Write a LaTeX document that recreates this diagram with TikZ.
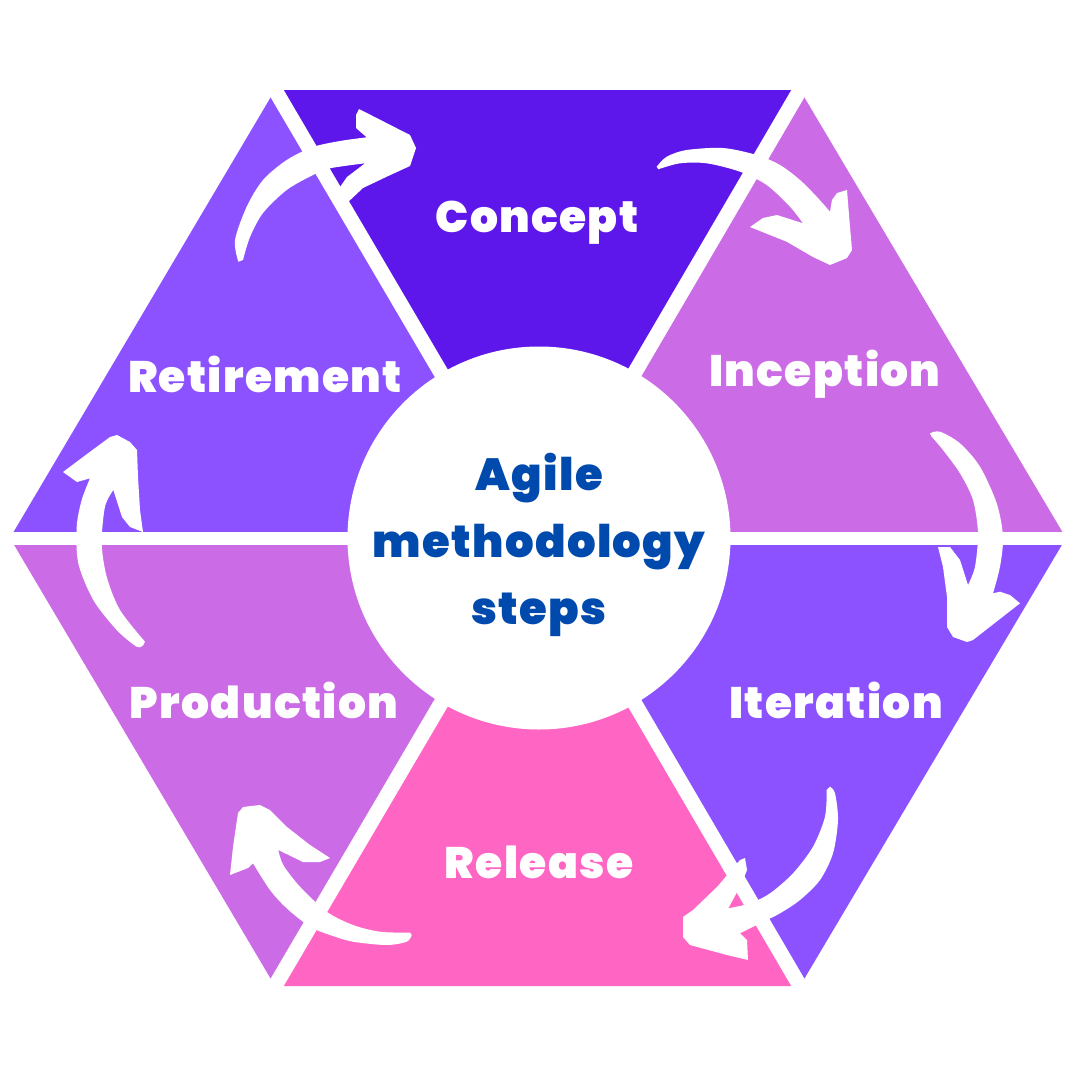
\documentclass[tikz,border=0pt]{standalone}
\usepackage{fontspec}
\setmainfont{Poppins}
\newfontfamily\heavy{Poppins Black}[LetterSpace=3]
\usetikzlibrary{calc}
\definecolor{cConcept}{HTML}{5E17EB}
\definecolor{cLilac}{HTML}{CB6CE6}
\definecolor{cViolet}{HTML}{8C52FF}
\definecolor{cPink}{HTML}{FF66C4}
\definecolor{cBlue}{HTML}{004AAD}
\begin{document}
\begin{tikzpicture}[x=1pt,y=-1pt,
  lbl/.style={text=white,font=\heavy\fontsize{44}{50}\selectfont,inner sep=0pt},
  gap/.style={draw=white,line width=15pt},
  swoosh/.style={fill=white,draw=none}]
\useasboundingbox (0,0) rectangle (1080,1080);
\fill[white] (0,0) rectangle (1080,1080);
\coordinate (O) at (538,538);
\coordinate (A) at (275,90);
\coordinate (B) at (800,90);
\coordinate (C) at (1066,538);
\coordinate (D) at (800,986);
\coordinate (E) at (275,986);
\coordinate (F) at (10,538);
% sectors
\fill[cConcept] (O) -- (A) -- (B) -- cycle;
\fill[cLilac] (O) -- (B) -- (C) -- cycle;
\fill[cViolet] (O) -- (C) -- (D) -- cycle;
\fill[cPink] (O) -- (D) -- (E) -- cycle;
\fill[cLilac] (O) -- (E) -- (F) -- cycle;
\fill[cViolet] (O) -- (F) -- (A) -- cycle;
% white gaps
\foreach \p in {A,B,D,E} \draw[gap] (O) -- ($(O)!1.1!(\p)$);
\foreach \p in {C,F} \draw[gap,line width=13pt] (O) -- ($(O)!1.1!(\p)$);
% hub
\node[circle,fill=white,minimum size=383pt,inner sep=0pt] (hub) at (539,538) {};
\node[text=cBlue,font=\heavy\fontsize{45}{67}\selectfont,align=center,inner sep=0pt] (title) at (539,545) {Agile\\methodology\\steps};
% labels
\node[lbl] (concept) at (537,223) {Concept};
\node[lbl] (inception) at (825,374) {Inception};
\node[lbl] (iteration) at (836,700) {Iteration};
\node[lbl] (release) at (539,862) {Release};
\node[lbl] (production) at (264,700) {Production};
\node[lbl] (retirement) at (265,374) {Retirement};
% arrows
\fill[swoosh] plot[smooth] coordinates {(238.3,261.7) (235,240) (246.7,206.7) (263,180) (286.7,160) (313,147) (340,141) (366.7,137.3)}
  -- (356,128) -- (356,115) -- (359,109) -- (410,135) -- (416,148) -- (410,166) -- (386.7,176.7) -- (363,188) -- (347,203) -- (340,187) -- (347,177)
  -- plot[smooth] coordinates {(365,163.3) (330,168.3) (313,175) (286.7,190) (263,213) (250,237) (243,260)} -- cycle;
\fill[swoosh] plot[smooth] coordinates {(656.7,166.7) (666.7,156.7) (686.7,150) (723,148) (756.7,155) (780,165) (800,180) (816.7,196.7) (830,211.7)}
  -- (832,200) -- (837,193) -- (847,190) -- (849,215) -- (852,250) -- (847,258) -- (830,265) -- (813,257) -- (786.7,241.7) -- (750,227) -- (763,218) -- (777,215)
  -- plot[smooth] coordinates {(803,223.3) (790,206.7) (766.7,185) (740,171.7) (706.7,163.3) (680,163.3) (658.3,169.3)} -- cycle;
\fill[swoosh] plot[smooth] coordinates {(930,433.3) (940,431.7) (960,443.3) (980,466.7) (996.7,503.3) (1003,536.7) (1000,566.7) (993,593.3)}
  -- (1000,591.7) -- (1010,595) -- (1020,603.3) -- (973,640) -- (967,642) -- (953,637) -- (947,627) -- (947,597) -- (943,567) -- (938,547) -- (950,547) -- (960,560)
  -- plot[smooth] coordinates {(968,585) (975,566.7) (978,533.3) (973,500) (960,473.3) (943,450) (931.7,436.7)} -- cycle;
\fill[swoosh] plot[smooth] coordinates {(830,786.7) (835,793.3) (838,820) (833,853.3) (820,880) (800,900) (780,913.3) (760,923.3) (740,933.3)}
  -- (747,940) -- (748,960) -- (727,955) -- (690,945) -- (683,937) -- (683,917) -- (693,910) -- (717,887) -- (740,860) -- (745,858) -- (747,870) -- (742,883)
  -- plot[smooth] coordinates {(728.3,908.3) (750,903.3) (770,893.3) (793,873.3) (813,846.7) (825,816.7) (826.7,790)} -- cycle;
\fill[swoosh] plot[smooth] coordinates {(411.7,935) (406.7,941.7) (386.7,945) (353,941.7) (330,935) (310,926.7) (286.7,908.3) (270,890) (253,863.3)}
  -- (248,868) -- (230,875) -- (233,847) -- (238,813) -- (243,807) -- (260,805) -- (270,810) -- (287,827) -- (310,845) -- (330,858) -- (320,862) -- (303,862)
  -- plot[smooth] coordinates {(278.3,850) (283.3,865) (300,886.7) (326.7,911.7) (353,925) (380,931.7) (410,932.7)} -- cycle;
\fill[swoosh] plot[smooth] coordinates {(143.3,645) (136.7,646.7) (116.7,630) (93.3,600) (78.3,563.3) (76.7,526.7) (81.7,500) (90,478.3)}
  -- (77,482) -- (63,472) -- (83,457) -- (110,437) -- (117,435) -- (130,442) -- (137,450) -- (138,477) -- (140,510) -- (143,532) -- (130,527) -- (122,517)
  -- plot[smooth] coordinates {(113.3,490) (105,506.7) (101.7,543.3) (106.7,576.7) (120,610) (145,641.7)} -- cycle;
\end{tikzpicture}
\end{document}
